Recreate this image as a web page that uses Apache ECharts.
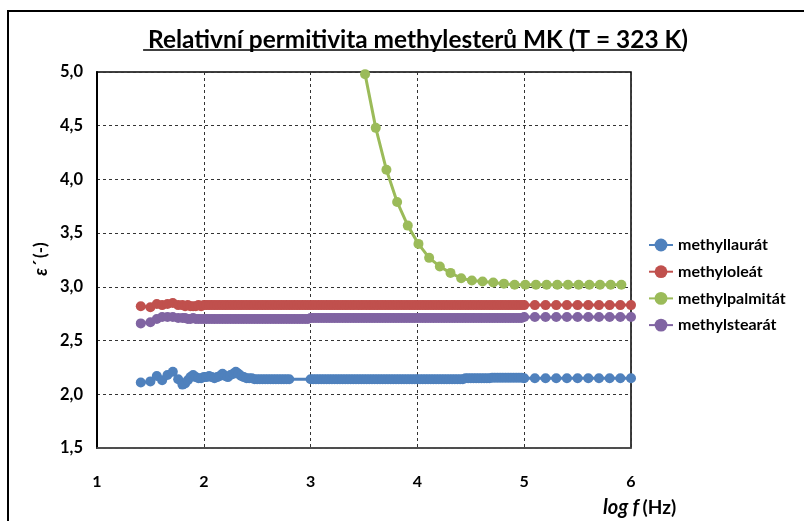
<!DOCTYPE html>
<html>
<head>
<meta charset="utf-8">
<script src="https://cdn.jsdelivr.net/npm/echarts@6/dist/echarts.min.js"></script>
<style>
html,body{margin:0;padding:0;background:#fff;}
#chart{width:804px;height:521px;}
</style>
</head>
<body>
<div id="chart"></div>
<script>
// log f (Hz) values shared by methyllaurát, methyloleát, methylstearát
const logF = [1.41,1.50,1.56,1.61,1.66,1.71,1.76,
  1.800,1.825,1.850,1.875,1.900,1.925,1.950,1.975,
  2.000,2.025,2.050,2.075,2.100,2.125,2.150,2.175,
  2.200,2.225,2.250,2.275,2.300,2.325,2.350,2.375,
  2.400,2.425,2.450,2.475,2.500,2.525,2.550,2.575,
  2.600,2.625,2.650,2.675,2.700,2.725,2.750,2.775,
  2.800,2.825,2.850,2.875,2.900,2.925,2.950,2.975,
  3.000,3.025,3.050,3.075,3.100,3.125,3.150,3.175,
  3.200,3.225,3.250,3.275,3.300,3.325,3.350,3.375,
  3.400,3.425,3.450,3.475,3.500,3.525,3.550,3.575,
  3.600,3.625,3.650,3.675,3.700,3.725,3.750,3.775,
  3.800,3.825,3.850,3.875,3.900,3.925,3.950,3.975,
  4.000,4.025,4.050,4.075,4.100,4.125,4.150,4.175,
  4.200,4.225,4.250,4.275,4.300,4.325,4.350,4.375,
  4.400,4.425,4.450,4.475,4.500,4.525,4.550,4.575,
  4.600,4.625,4.650,4.675,4.700,4.725,4.750,4.775,
  4.800,4.825,4.850,4.875,4.900,4.925,4.950,4.975,
  5.00,5.10,5.20,5.30,5.40,5.50,5.60,5.70,5.80,5.90,6.00];

const methyllaurat = [2.11,2.12,2.17,2.13,2.18,2.21,2.14,
  2.09,2.10,2.13,2.16,2.18,2.16,2.15,2.15,
  2.16,2.16,2.17,2.16,2.15,2.16,2.17,2.19,
  2.17,2.16,2.18,2.19,2.21,2.19,2.17,2.16,
  2.15,2.15,2.15,2.14,2.14,2.14,2.14,2.14,
  2.14,2.14,2.14,2.14,2.14,2.14,2.14,2.14,
  2.14,null,null,null,null,null,null,null,
  2.14,2.14,2.14,2.14,2.14,2.14,2.14,2.14,
  2.14,2.14,2.14,2.14,2.14,2.14,2.14,2.14,
  2.14,2.14,2.14,2.14,2.14,2.14,2.14,2.14,
  2.14,2.14,2.14,2.14,2.14,2.14,2.14,2.14,
  2.14,2.14,2.14,2.14,2.14,2.14,2.14,2.14,
  2.14,2.14,2.14,2.14,2.14,2.14,2.14,2.14,
  2.14,2.14,2.14,2.14,2.14,2.14,2.14,2.14,
  2.14,2.14,2.15,2.15,2.15,2.15,2.15,2.15,
  2.15,2.15,2.15,2.15,2.155,2.155,2.155,2.155,
  2.155,2.155,2.155,2.155,2.155,2.155,2.155,2.155,
  2.15,2.15,2.15,2.15,2.15,2.15,2.15,2.15,2.15,2.15,2.15];

const methyloleat = [2.82,2.81,2.84,2.83,2.84,2.85,2.83,
  2.83,2.82,2.83,2.82,2.82,2.82,2.83,2.82,
  2.83,2.83,2.83,2.83,2.83,2.83,2.83,2.83,
  2.83,2.83,2.83,2.83,2.83,2.83,2.83,2.83,
  2.83,2.83,2.83,2.83,2.83,2.83,2.83,2.83,
  2.83,2.83,2.83,2.83,2.83,2.83,2.83,2.83,
  2.83,2.83,2.83,2.83,2.83,2.83,2.83,2.83,
  2.83,2.83,2.83,2.83,2.83,2.83,2.83,2.83,
  2.83,2.83,2.83,2.83,2.83,2.83,2.83,2.83,
  2.83,2.83,2.83,2.83,2.83,2.83,2.83,2.83,
  2.83,2.83,2.83,2.83,2.83,2.83,2.83,2.83,
  2.83,2.83,2.83,2.83,2.83,2.83,2.83,2.83,
  2.83,2.83,2.83,2.83,2.83,2.83,2.83,2.83,
  2.83,2.83,2.83,2.83,2.83,2.83,2.83,2.83,
  2.83,2.83,2.83,2.83,2.83,2.83,2.83,2.83,
  2.83,2.83,2.83,2.83,2.83,2.83,2.83,2.83,
  2.83,2.83,2.83,2.83,2.83,2.83,2.83,2.83,
  2.83,2.83,2.83,2.83,2.83,2.83,2.83,2.83,2.83,2.83,2.83];

const methylstearat = [2.66,2.67,2.70,2.72,2.72,2.72,2.71,
  2.71,2.71,2.70,2.70,2.71,2.70,2.70,2.70,
  2.70,2.70,2.70,2.70,2.70,2.70,2.70,2.70,
  2.70,2.70,2.70,2.70,2.70,2.70,2.70,2.70,
  2.70,2.70,2.70,2.70,2.70,2.70,2.70,2.70,
  2.70,2.70,2.70,2.70,2.70,2.70,2.70,2.70,
  2.70,2.70,2.70,2.70,2.70,2.70,2.70,2.70,
  2.71,2.71,2.71,2.71,2.71,2.71,2.71,2.71,
  2.71,2.71,2.71,2.71,2.71,2.71,2.71,2.71,
  2.71,2.71,2.71,2.71,2.71,2.71,2.71,2.71,
  2.71,2.71,2.71,2.71,2.71,2.71,2.71,2.71,
  2.71,2.71,2.71,2.71,2.71,2.71,2.71,2.71,
  2.71,2.71,2.71,2.71,2.71,2.71,2.71,2.71,
  2.71,2.71,2.71,2.71,2.71,2.71,2.71,2.71,
  2.71,2.71,2.71,2.71,2.71,2.71,2.71,2.71,
  2.71,2.71,2.71,2.71,2.71,2.71,2.71,2.71,
  2.71,2.71,2.71,2.71,2.71,2.71,2.71,2.71,
  2.72,2.72,2.72,2.72,2.72,2.72,2.72,2.72,2.72,2.72,2.72];

// log f values of methylpalmitát
const logFPalm = [3.51,3.61,3.71,3.81,3.91,4.01,4.11,4.21,4.31,4.41,4.51,4.61,4.71,
  4.81,4.91,5.01,5.11,5.21,5.31,5.41,5.51,5.61,5.71,5.81,5.91];
const methylpalmitat = [4.98,4.48,4.09,3.79,3.57,3.40,3.27,3.19,3.13,3.08,3.06,3.05,3.04,
  3.03,3.02,3.02,3.02,3.02,3.02,3.02,3.02,3.02,3.02,3.02,3.02];

const seriesNames = ['methyllaurát','methyloleát','methylpalmitát','methylstearát'];
const titleText = 'Relativní permitivita methylesterů MK (T = 323 K)';
const xTicks = [1, 6, 1];      // min, max, interval
const yTicks = [1.5, 5.0, 0.5];

const FONT = 'Lato';
const colors = ['#4F81BD','#C0504D','#9BBB59','#8064A2'];

function pairs(xs, ys){
  const out = [];
  for (let i = 0; i < xs.length; i++) if (ys[i] !== null) out.push([xs[i], ys[i]]);
  return out;
}

// fit title to the target width and measure it for the underline
const cv = document.createElement('canvas').getContext('2d');
cv.font = 'bold 21px ' + FONT;
const titleSize = 21 * 540 / cv.measureText(titleText).width;
cv.font = 'bold ' + titleSize + 'px ' + FONT;
const tw = cv.measureText(titleText).width;
const titleCx = 413;

const chart = echarts.init(document.getElementById('chart'), null, {renderer:'canvas'});

function mkSeries(name, data, color){
  return {
    name: name, type: 'line', data: data,
    symbol: 'circle', symbolSize: 10,
    lineStyle: {width: 3, color: color},
    itemStyle: {color: color},
    emphasis: {disabled: true},
    animation: false
  };
}

chart.setOption({
  animation: false,
  color: colors,
  title: {
    text: titleText,
    left: titleCx - tw/2, top: 38 - titleSize*0.62,
    textStyle: {fontFamily: FONT, fontWeight: 'bold', fontSize: titleSize, color: '#000'}
  },
  grid: {left: 97, right: 173, top: 72, bottom: 73, show: true, borderColor: '#000', borderWidth: 1.5, backgroundColor: 'transparent'},
  legend: {
    orient: 'vertical', left: 643, top: 232,
    itemWidth: 24, itemHeight: 16, itemGap: 10.7,
    data: seriesNames,
    textStyle: {fontFamily: FONT, fontWeight: 'bold', fontSize: 16, color: '#000'}
  },
  xAxis: {
    type: 'value', min: xTicks[0], max: xTicks[1], interval: xTicks[2],
    axisLine: {show: true, lineStyle: {color: '#555', width: 1.5}},
    axisTick: {show: false},
    axisLabel: {margin: 26, fontFamily: FONT, fontWeight: 'bold', fontSize: 16, color: '#000'},
    splitLine: {show: true, lineStyle: {color: '#333', type: [3,3], width: 1}}
  },
  yAxis: {
    type: 'value', min: yTicks[0], max: yTicks[1], interval: yTicks[2],
    axisLine: {show: true, lineStyle: {color: '#000', width: 2}},
    axisTick: {show: false},
    axisLabel: {margin: 14, fontFamily: FONT, fontWeight: 'bold', fontSize: 16.5, color: '#000',
      formatter: v => v.toFixed(1).replace('.', ',')},
    splitLine: {show: true, lineStyle: {color: '#333', type: [3,3], width: 1}}
  },
  graphic: [
    {type: 'rect', silent: true, shape: {x: 8, y: 11, width: 830, height: 540},
     style: {fill: 'none', stroke: '#000', lineWidth: 2}},
    {type: 'line', silent: true, shape: {x1: titleCx - tw/2, y1: 50, x2: titleCx + tw/2, y2: 50},
     style: {stroke: '#000', lineWidth: 1.5}},
    {type: 'text', silent: true, x: 41, y: 259, rotation: Math.PI/2,
     style: {rich: {e: {fontFamily: FONT, fontStyle: 'italic', fontWeight: 'bold', fontSize: 18, fill: '#000'},
                    n: {fontFamily: FONT, fontWeight: 'bold', fontSize: 17, fill: '#000'}},
             text: '{e|ε´} {n|(-)}', align: 'center', verticalAlign: 'middle'}},
    {type: 'text', silent: true, left: 603, top: 498,
     style: {rich: {i: {fontFamily: FONT, fontStyle: 'italic', fontWeight: 'bold', fontSize: 20, fill: '#000'},
                    n: {fontFamily: FONT, fontWeight: 'bold', fontSize: 19, fill: '#000'}},
             text: '{i|log f} {n|(Hz)}'}}
  ],
  series: [
    mkSeries(seriesNames[0], pairs(logF, methyllaurat), colors[0]),
    mkSeries(seriesNames[1], pairs(logF, methyloleat), colors[1]),
    mkSeries(seriesNames[2], pairs(logFPalm, methylpalmitat), colors[2]),
    mkSeries(seriesNames[3], pairs(logF, methylstearat), colors[3])
  ]
});
</script>
</body>
</html>
